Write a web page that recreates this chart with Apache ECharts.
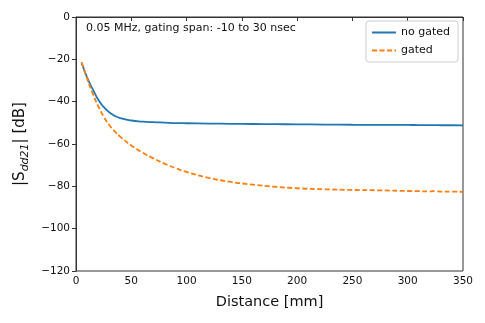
<!DOCTYPE html>
<html>
<head>
<meta charset="utf-8">
<script src="https://cdn.jsdelivr.net/npm/echarts@6/dist/echarts.min.js"></script>
<style>html,body{margin:0;padding:0;background:#fff}#c{width:485px;height:323px}</style>
</head>
<body>
<div id="c"></div>
<script>
const distance = [5, 10, 15, 20, 25, 30, 35, 40, 50, 60, 70, 80, 90, 100, 120, 140, 160, 180, 200, 225, 250, 275, 300, 310, 320, 325, 330, 340, 350];
const noGated = [-21.5, -28.5, -34, -39, -42.5, -45, -46.7, -47.8, -48.9, -49.4, -49.7, -49.9, -50.1, -50.2, -50.35, -50.45, -50.55, -50.65, -50.7, -50.8, -50.9, -50.95, -51.0, -51.05, -51.1, -51.1, -51.15, -51.15, -51.2];
const gated = [-21.5, -29, -36, -42, -47, -51, -54, -56.5, -60.7, -64, -66.8, -69.3, -71.4, -73.2, -76, -77.9, -79.2, -80.2, -80.9, -81.4, -81.7, -81.9, -82.2, -82.3, -82.4, -82.2, -82.5, -82.5, -82.6];
const seriesNames = ['no gated', 'gated'];
const annotation = '0.05 MHz, gating span: -10 to 30 nsec';

const chart = echarts.init(document.getElementById('c'), null, {renderer: 'canvas'});
const font = 'DejaVu Sans';
const minusFmt = v => String(v).replace('-', '\u2212');
chart.setOption({
  animation: false,
  textStyle: {fontFamily: font},
  grid: {left: 76, right: 22, top: 17, bottom: 52, show: true, borderColor: '#333', borderWidth: 1, backgroundColor: 'transparent'},
  xAxis: {
    type: 'value', min: 0, max: 350, interval: 50,
    name: 'Distance [mm]', nameLocation: 'middle', nameGap: 24,
    nameTextStyle: {fontSize: 14.5, color: '#111', fontFamily: font},
    axisLine: {show: true, lineStyle: {color: '#333', width: 1}},
    axisTick: {show: true, length: 4, lineStyle: {color: '#333'}},
    axisLabel: {fontSize: 10.5, color: '#111', margin: 5, fontFamily: font, formatter: minusFmt},
    splitLine: {show: false}
  },
  yAxis: {
    type: 'value', min: -120, max: 0, interval: 20,
    name: '{m||S}{s|dd21}{m|| [dB]}', nameLocation: 'middle', nameGap: 44, nameRotate: 90,
    nameTextStyle: {
      fontFamily: font, color: '#111',
      rich: {
        m: {fontSize: 15, fontFamily: font, color: '#111', lineHeight: 20, verticalAlign: 'bottom'},
        s: {fontSize: 11, fontStyle: 'italic', fontFamily: font, color: '#111', lineHeight: 20, verticalAlign: 'bottom', padding: [0, 0, -3, 0]}
      }
    },
    axisLine: {show: true, onZero: false, lineStyle: {color: '#333', width: 1}},
    axisTick: {show: true, length: 4, lineStyle: {color: '#333'}},
    axisLabel: {fontSize: 10.5, color: '#111', margin: 6, fontFamily: font, formatter: minusFmt},
    splitLine: {show: false}
  },
  legend: {
    right: 27, top: 21, orient: 'vertical',
    itemWidth: 24, itemHeight: 10, itemGap: 7,
    padding: [6, 8, 6, 5],
    borderColor: '#ccc', borderWidth: 1, borderRadius: 3,
    backgroundColor: '#fff',
    textStyle: {fontSize: 11, color: '#111', fontFamily: font},
    data: seriesNames.map(n => ({name: n, itemStyle: {opacity: 0}}))
  },
  graphic: [{
    type: 'text', left: 86, top: 23,
    style: {text: annotation, fontSize: 11, fontFamily: font, fill: '#111'}
  }],
  series: [
    {name: seriesNames[0], type: 'line', smooth: true, showSymbol: false, symbol: 'none',
     data: distance.map((d, i) => [d, noGated[i]]),
     lineStyle: {color: '#1f77b4', width: 1.8}, itemStyle: {color: '#1f77b4'}},
    {name: seriesNames[1], type: 'line', smooth: true, showSymbol: false, symbol: 'none',
     data: distance.map((d, i) => [d, gated[i]]),
     lineStyle: {color: '#ff7f0e', width: 1.8, type: [5, 2.5]}, itemStyle: {color: '#ff7f0e'}}
  ]
});
</script>
</body>
</html>
